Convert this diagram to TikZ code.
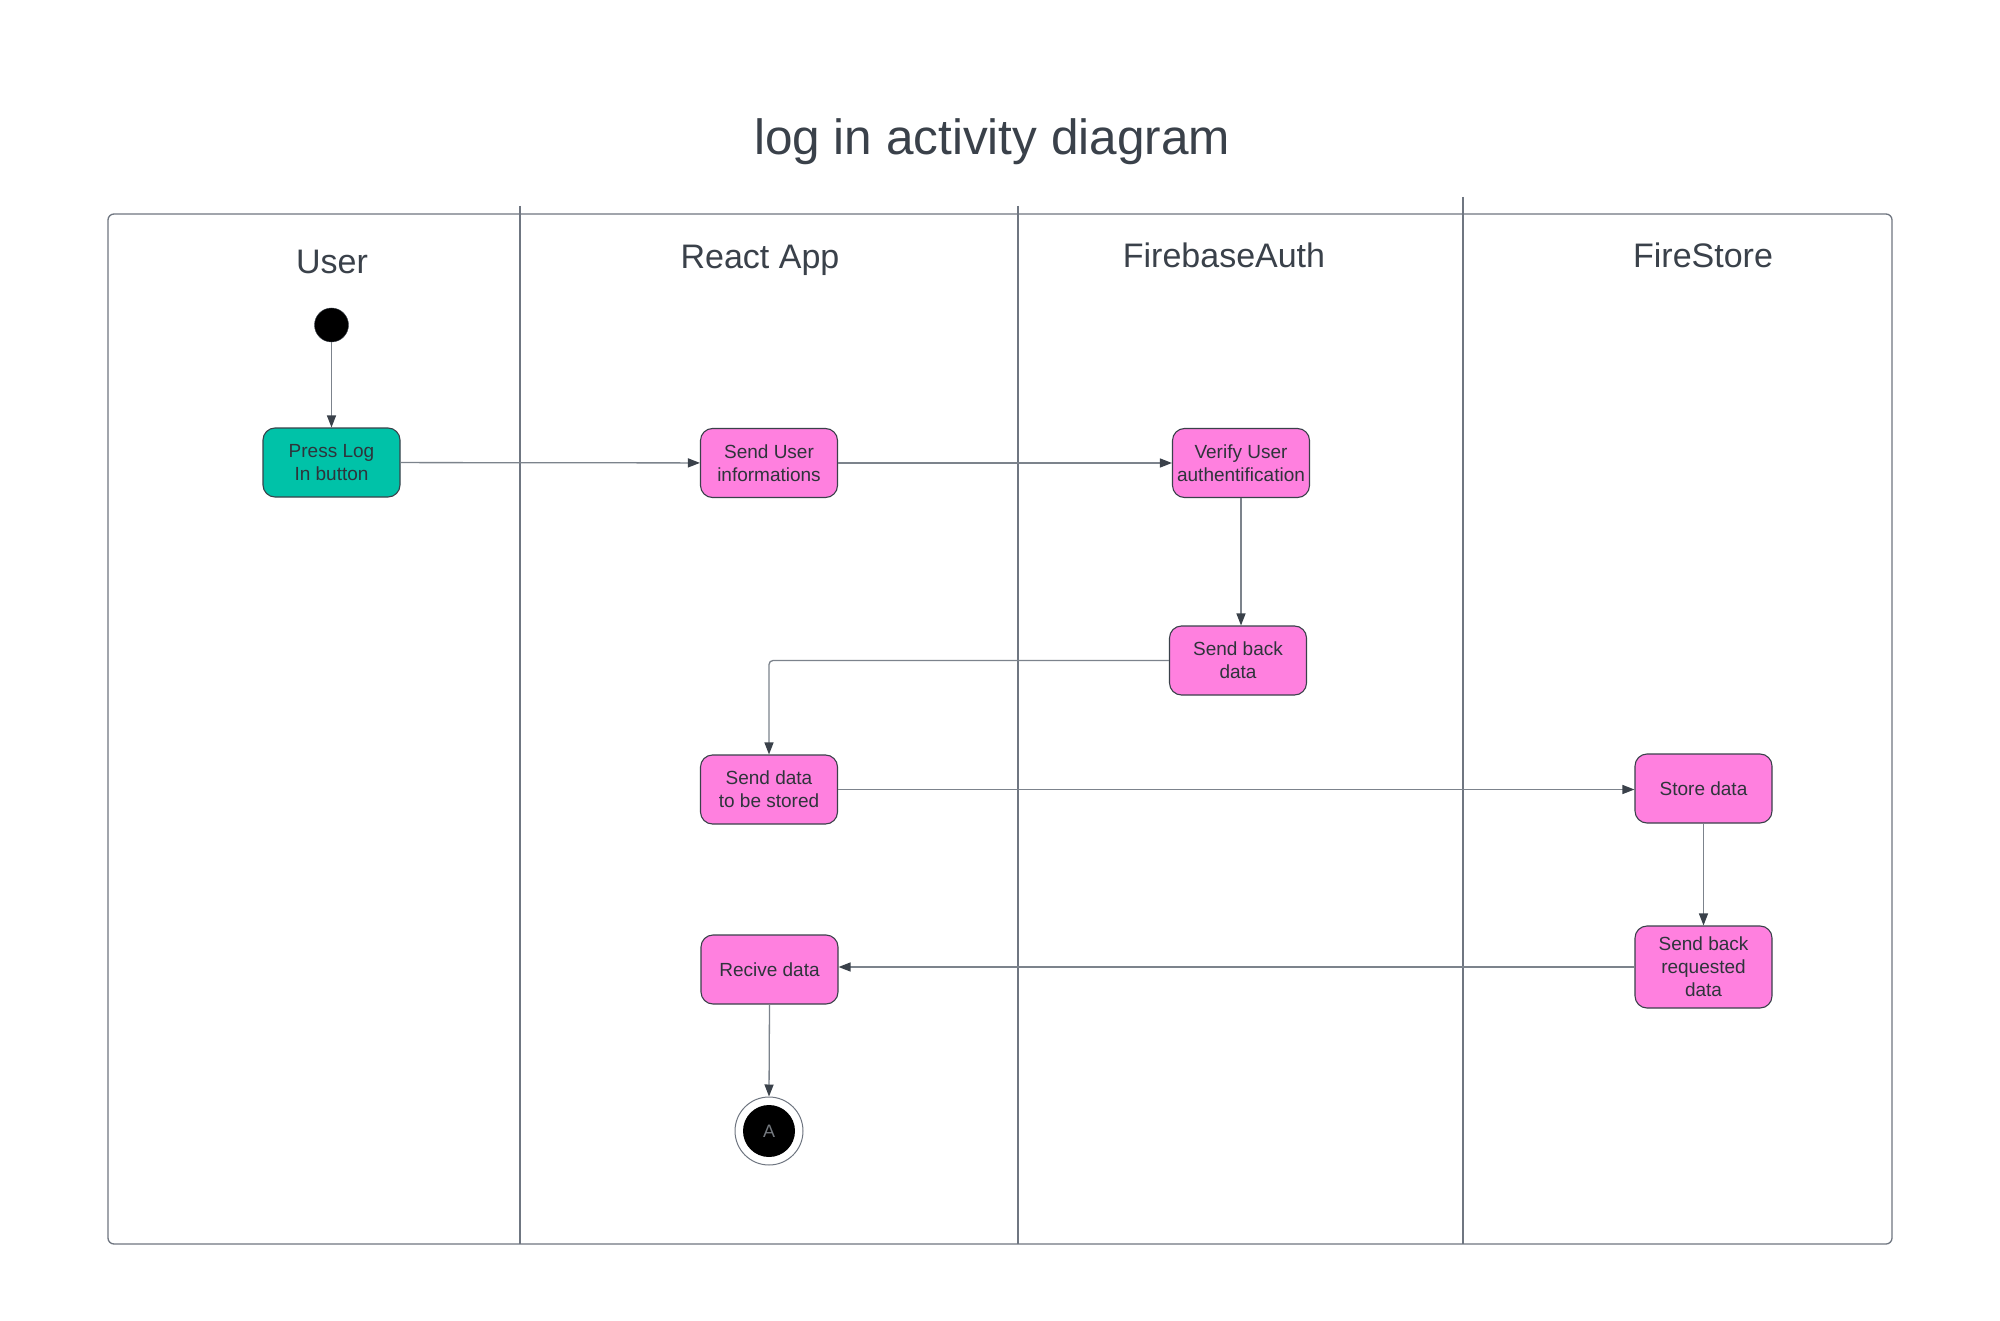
\documentclass[tikz,border=0pt]{standalone}
\usepackage{fontspec}
\setmainfont{Liberation Sans}
\usetikzlibrary{arrows.meta}
\definecolor{ink}{HTML}{3A414A}
\definecolor{framecol}{HTML}{6F7681}
\definecolor{linecol}{HTML}{7C838C}
\definecolor{pinkfill}{HTML}{FF80DF}
\definecolor{tealfill}{HTML}{00C2A8}
\begin{document}
\begin{tikzpicture}[x=1pt,y=-1pt,
  act/.style={draw=ink, line width=1.1pt, rounded corners=12pt, fill=pinkfill,
    minimum width=137pt, minimum height=69pt, inner sep=0pt, align=center,
    font=\fontsize{19}{23}\selectfont, text=ink!80!black},
  flow/.style={draw=linecol, line width=1.3pt, -{Triangle[length=12pt,width=9pt,color=ink]}},
  lanelabel/.style={font=\fontsize{34}{40}\selectfont, text=ink, anchor=base},
  lanesep/.style={draw=framecol, line width=1.3pt}
  ]
\fill[white] (0,0) rectangle (2000,1321);
\useasboundingbox (0,0) rectangle (2000,1321);

% title
\node[font=\fontsize{49.5}{58}\selectfont, text=ink, anchor=base] (title) at (992,155) {log in activity diagram};

% frame and lanes
\draw[lanesep, rounded corners=6pt] (108,214) rectangle (1892,1244);
\draw[lanesep] (520,206) -- (520,1244);
\draw[lanesep] (1018,206) -- (1018,1244);
\draw[lanesep] (1463,197) -- (1463,1244);

\node[lanelabel] (luser) at (332,274) {User};
\node[lanelabel] (lreact) at (760,269) {React App};
\node[lanelabel] (lauth) at (1224,268) {FirebaseAuth};
\node[lanelabel] (lstore) at (1703,268) {FireStore};

% nodes
\node[circle, fill=black, draw=ink, minimum size=34pt, inner sep=0pt] (start) at (331.5,325) {};
\node[act, fill=tealfill] (press) at (331.5,462.5) {Press Log\\In button};
\node[act] (sendinfo) at (769,463) {Send User\\informations};
\node[act] (verify) at (1241,463) {Verify User\\authentification};
\node[act] (sendback) at (1238,660.5) {Send back\\data};
\node[act] (tostore) at (769,789.5) {Send data\\to be stored};
\node[act] (store) at (1703.5,788.5) {Store data};
\node[act, minimum height=82pt] (reqdata) at (1703.5,967) {Send back\\requested\\data};
\node[act] (receive) at (769.5,969.5) {Recive data};
\node[circle, draw=framecol, fill=white, line width=1pt, minimum size=68pt, inner sep=0pt] (endnode) at (769,1131) {};
\node[circle, fill=black, minimum size=52pt, inner sep=0pt, text=ink!70!white,
  font=\fontsize{18}{20}\selectfont] (endinner) at (endnode.center) {A};

% connectors
\draw[flow] (start) -- (press);
\draw[flow] (press) -- (sendinfo);
\draw[flow] (sendinfo) -- (verify);
\draw[flow] (verify.south) -- (verify.south |- sendback.north);
\draw[flow, rounded corners=4pt] (sendback.west) -| (tostore.north);
\draw[flow] (tostore.east) -- (tostore.east -| store.west);
\draw[flow] (store.south) -- (store.south |- reqdata.north);
\draw[flow] (reqdata.west) -- (reqdata.west -| receive.east);
\draw[flow] (receive.south) -- (endnode.north);
\end{tikzpicture}
\end{document}
